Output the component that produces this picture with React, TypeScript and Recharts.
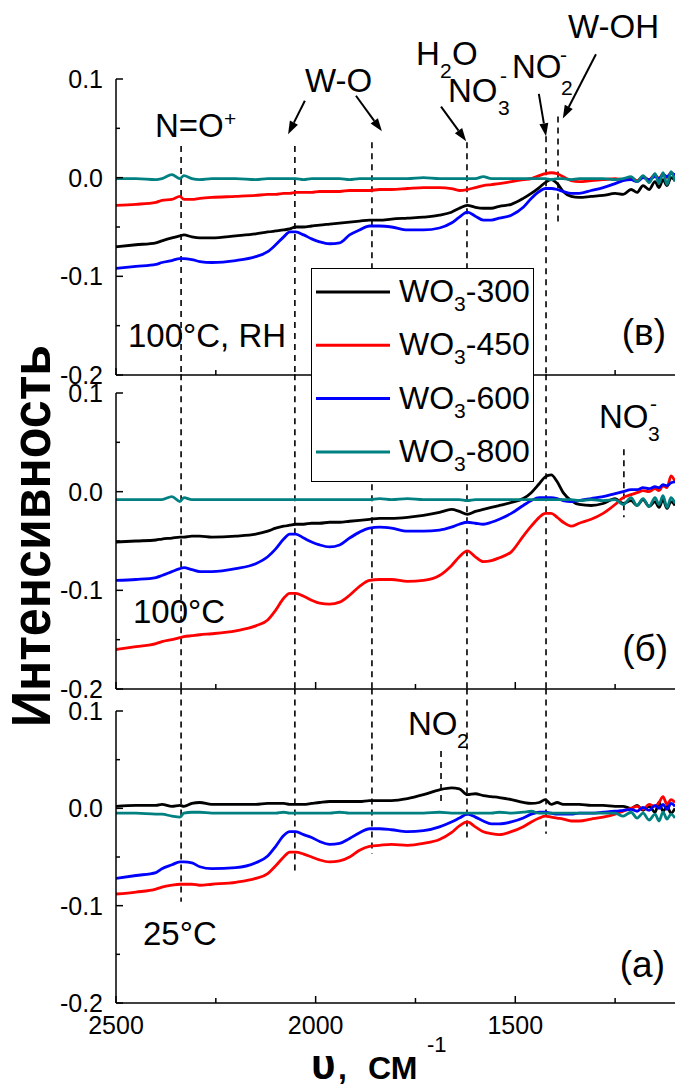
import { Legend, Line, LineChart, ReferenceLine, XAxis, YAxis } from 'recharts'

const FONT = '"Liberation Sans", Arial, sans-serif'
const W = 675
const H = 1090

// wavenumber, cm-1
const wavenumber = [
  2500, 2450, 2400, 2385, 2360, 2340, 2330, 2310, 2290, 2260,
  2200, 2150, 2120, 2100, 2080, 2065, 2050, 2030, 2010, 1990,
  1965, 1940, 1915, 1890, 1865, 1840, 1810, 1770, 1730, 1690,
  1660, 1640, 1620, 1600, 1580, 1560, 1540, 1510, 1480, 1460,
  1440, 1425, 1410, 1395, 1380, 1360, 1340, 1310, 1280, 1250,
  1230, 1210, 1195, 1180, 1165, 1150, 1140, 1130, 1120, 1110,
  1100,
]

// (в) 100°C, RH
const rh300 = [
  -0.070, -0.068, -0.066, -0.064, -0.061, -0.059, -0.058, -0.060, -0.061, -0.061,
  -0.059, -0.057, -0.055, -0.054, -0.053, -0.052, -0.050, -0.050, -0.049, -0.048,
  -0.047, -0.046, -0.045, -0.044, -0.043, -0.043, -0.042, -0.041, -0.040, -0.038,
  -0.035, -0.031, -0.028, -0.030, -0.031, -0.031, -0.029, -0.027, -0.021, -0.016,
  -0.010, -0.005, -0.002, -0.006, -0.014, -0.019, -0.020, -0.019, -0.018, -0.016,
  -0.017, -0.012, -0.015, -0.008, -0.012, -0.004, -0.010, -0.002, -0.008, 0.000,
  -0.003,
]
const rh450 = [
  -0.028, -0.027, -0.025, -0.023, -0.022, -0.019, -0.022, -0.022, -0.021, -0.020,
  -0.019, -0.018, -0.017, -0.017, -0.016, -0.016, -0.015, -0.015, -0.015, -0.014,
  -0.014, -0.014, -0.013, -0.013, -0.013, -0.012, -0.012, -0.011, -0.010, -0.010,
  -0.011, -0.013, -0.012, -0.010, -0.008, -0.007, -0.006, -0.004, -0.002, -0.001,
  0.002, 0.004, 0.005, 0.004, 0.001, -0.003, -0.004, -0.003, -0.002, -0.001,
  -0.002, 0.000, -0.003, 0.001, -0.002, 0.003, -0.001, 0.004, 0.000, 0.005,
  0.002,
]
const rh600 = [
  -0.092, -0.090, -0.088, -0.086, -0.084, -0.082, -0.082, -0.083, -0.085, -0.086,
  -0.084, -0.080, -0.075, -0.068, -0.060, -0.055, -0.055, -0.058, -0.062, -0.065,
  -0.067, -0.066, -0.058, -0.053, -0.049, -0.049, -0.050, -0.053, -0.053, -0.051,
  -0.046, -0.040, -0.035, -0.039, -0.043, -0.043, -0.041, -0.038, -0.030, -0.021,
  -0.014, -0.011, -0.011, -0.012, -0.014, -0.016, -0.016, -0.013, -0.010, -0.006,
  -0.003, -0.002, -0.004, 0.000, -0.002, 0.001, -0.001, 0.003, 0.001, 0.004,
  0.003,
]
const rh800 = [
  -0.001, -0.001, -0.002, -0.001, 0.003, -0.001, 0.002, -0.001, -0.002, -0.001,
  -0.001, -0.002, -0.001, -0.001, -0.001, -0.001, -0.001, -0.002, -0.001, -0.001,
  -0.001, -0.001, -0.002, -0.001, -0.001, -0.001, -0.001, -0.001, 0.000, -0.001,
  -0.001, -0.001, -0.001, -0.001, 0.001, -0.001, -0.001, -0.001, -0.001, -0.001,
  -0.001, -0.001, -0.002, -0.001, -0.001, -0.002, -0.001, -0.001, -0.001, -0.002,
  -0.001, 0.001, -0.004, 0.002, -0.005, 0.004, -0.006, 0.005, -0.007, 0.006,
  -0.004,
]

// (б) 100°C
const t100_300 = [
  -0.051, -0.050, -0.049, -0.048, -0.047, -0.046, -0.046, -0.045, -0.045, -0.046,
  -0.045, -0.043, -0.040, -0.037, -0.035, -0.034, -0.033, -0.033, -0.032, -0.032,
  -0.031, -0.031, -0.030, -0.029, -0.028, -0.027, -0.027, -0.026, -0.024, -0.021,
  -0.018, -0.020, -0.023, -0.020, -0.018, -0.016, -0.014, -0.011, -0.007, -0.001,
  0.008, 0.015, 0.017, 0.010, -0.001, -0.009, -0.013, -0.014, -0.012, -0.007,
  -0.012, -0.009, -0.014, -0.008, -0.015, -0.010, -0.016, -0.008, -0.017, -0.010,
  -0.014,
]
const t100_450 = [
  -0.160, -0.157, -0.154, -0.152, -0.150, -0.148, -0.147, -0.146, -0.145, -0.144,
  -0.141, -0.136, -0.130, -0.120, -0.108, -0.103, -0.103, -0.106, -0.110, -0.113,
  -0.114, -0.112, -0.105, -0.096, -0.090, -0.089, -0.089, -0.091, -0.090, -0.085,
  -0.075, -0.066, -0.060, -0.066, -0.071, -0.070, -0.067, -0.061, -0.045, -0.035,
  -0.026, -0.022, -0.022, -0.026, -0.031, -0.035, -0.032, -0.028, -0.022, -0.013,
  -0.006, -0.003, -0.001, 0.001, 0.000, 0.003, 0.001, 0.006, 0.004, 0.016,
  0.010,
]
const t100_600 = [
  -0.090, -0.089, -0.087, -0.085, -0.081, -0.078, -0.077, -0.079, -0.081, -0.081,
  -0.078, -0.073, -0.066, -0.058, -0.048, -0.043, -0.043, -0.047, -0.051, -0.054,
  -0.056, -0.054, -0.047, -0.041, -0.037, -0.036, -0.037, -0.040, -0.040, -0.039,
  -0.036, -0.033, -0.031, -0.032, -0.033, -0.031, -0.028, -0.022, -0.014, -0.009,
  -0.006, -0.006, -0.006, -0.007, -0.009, -0.010, -0.009, -0.007, -0.005, -0.002,
  0.000, 0.002, 0.002, 0.004, 0.003, 0.005, 0.004, 0.007, 0.006, 0.009,
  0.010,
]
const t100_800 = [
  -0.008, -0.008, -0.008, -0.008, -0.005, -0.010, -0.006, -0.008, -0.008, -0.008,
  -0.008, -0.008, -0.008, -0.008, -0.008, -0.008, -0.008, -0.008, -0.008, -0.008,
  -0.008, -0.008, -0.008, -0.008, -0.008, -0.007, -0.008, -0.007, -0.008, -0.008,
  -0.008, -0.008, -0.009, -0.008, -0.008, -0.008, -0.008, -0.008, -0.008, -0.008,
  -0.008, -0.008, -0.008, -0.008, -0.008, -0.008, -0.009, -0.008, -0.009, -0.008,
  -0.013, -0.006, -0.014, -0.007, -0.015, -0.006, -0.013, -0.004, -0.016, -0.006,
  -0.012,
]

// (а) 25°C
const t25_300 = [
  0.002, 0.003, 0.003, 0.004, 0.002, 0.003, 0.002, 0.005, 0.006, 0.004,
  0.004, 0.004, 0.005, 0.005, 0.005, 0.004, 0.004, 0.004, 0.005, 0.006,
  0.007, 0.007, 0.007, 0.007, 0.008, 0.008, 0.008, 0.010, 0.014, 0.019,
  0.021, 0.020, 0.014, 0.015, 0.013, 0.012, 0.011, 0.009, 0.006, 0.005,
  0.006, 0.009, 0.004, 0.006, 0.004, 0.004, 0.004, 0.003, 0.003, 0.002,
  0.002, 0.000, 0.003, -0.002, 0.002, -0.004, 0.006, -0.003, 0.002, -0.005,
  0.000,
]
const t25_450 = [
  -0.088, -0.086, -0.083, -0.081, -0.079, -0.078, -0.078, -0.078, -0.079, -0.078,
  -0.076, -0.072, -0.067, -0.059, -0.050, -0.045, -0.045, -0.047, -0.050, -0.053,
  -0.055, -0.054, -0.050, -0.043, -0.039, -0.038, -0.037, -0.038, -0.036, -0.032,
  -0.025, -0.018, -0.014, -0.019, -0.024, -0.026, -0.027, -0.024, -0.019, -0.014,
  -0.010, -0.008, -0.009, -0.010, -0.011, -0.013, -0.013, -0.011, -0.009, -0.006,
  -0.003, 0.000, 0.002, -0.001, 0.004, 0.002, 0.006, 0.012, 0.004, 0.009,
  0.006,
]
const t25_600 = [
  -0.072, -0.069, -0.066, -0.062, -0.058, -0.055, -0.055, -0.056, -0.060, -0.062,
  -0.061, -0.056, -0.049, -0.039, -0.028, -0.024, -0.024, -0.027, -0.030, -0.034,
  -0.037, -0.036, -0.031, -0.025, -0.021, -0.021, -0.022, -0.024, -0.023, -0.019,
  -0.014, -0.010, -0.006, -0.009, -0.013, -0.016, -0.016, -0.014, -0.010, -0.006,
  -0.004, -0.004, -0.005, -0.006, -0.006, -0.006, -0.005, -0.005, -0.004, -0.003,
  -0.002, -0.001, -0.003, 0.001, -0.002, 0.003, 0.000, 0.004, -0.001, 0.005,
  0.002,
]
const t25_800 = [
  -0.005, -0.005, -0.006, -0.006, -0.008, -0.009, -0.005, -0.004, -0.004, -0.005,
  -0.005, -0.005, -0.005, -0.005, -0.004, -0.005, -0.005, -0.005, -0.005, -0.005,
  -0.005, -0.004, -0.005, -0.005, -0.005, -0.005, -0.005, -0.005, -0.005, -0.004,
  -0.005, -0.005, -0.005, -0.005, -0.005, -0.005, -0.004, -0.005, -0.004, -0.003,
  -0.005, -0.005, -0.005, -0.005, -0.005, -0.005, -0.005, -0.005, -0.005, -0.005,
  -0.008, -0.004, -0.010, -0.005, -0.012, -0.006, -0.013, -0.004, -0.011, -0.006,
  -0.010,
]

const seriesKeys = ['s300', 's450', 's600', 's800']
const seriesNames = ['300', '450', '600', '800']
const seriesColors = ['#000000', '#ff0000', '#0000ff', '#008080']

const yTicks = [-0.2, -0.15, -0.1, -0.05, 0, 0.05, 0.1]
const xTicks = [2500, 2250, 2000, 1750, 1500, 1250]

// dashed guides: [wavenumber, from, to]
const guidesRH = [[2337, 0.032, -0.2], [2052, 0.032, -0.2], [1859, 0.036, -0.2], [1621, 0.036, -0.2], [1423, 0.042, -0.2], [1393, 0.062, -0.049]]
const guides100 = [[2337, 0.119, -0.2], [2052, 0.119, -0.2], [1859, 0.119, -0.2], [1621, 0.119, -0.2], [1423, 0.119, -0.2], [1228, 0.043, -0.026]]
const guides25 = [[2337, 0.123, -0.096], [2052, 0.123, -0.068], [1859, 0.123, -0.047], [1621, 0.123, -0.03], [1423, 0.123, -0.026], [1686, 0.059, 0.005]]
// arrows: [x1, y1, x2, y2]
const arrowsRH = [[2027, 0.078, 2069, 0.044], [1899, 0.083, 1834, 0.047], [1686, 0.072, 1623, 0.037], [1441, 0.085, 1423, 0.042], [1298, 0.125, 1381, 0.06]]

const makeRows = (a, b, c, d) =>
  wavenumber.map((w, i) => ({ w, s300: a[i], s450: b[i], s600: c[i], s800: d[i] }))

const rowsRH = makeRows(rh300, rh450, rh600, rh800)
const rows100 = makeRows(t100_300, t100_450, t100_600, t100_800)
const rows25 = makeRows(t25_300, t25_450, t25_600, t25_800)

const YTick = ({ x, y, payload }) => {
  const v = payload.value
  const major = Math.abs(v * 10 - Math.round(v * 10)) < 1e-6
  return (
    <g>
      <line x1={x} x2={x + (major ? 7 : 4)} y1={y} y2={y} stroke="#000" strokeWidth={1.5} />
      {major && (
        <text x={x - 13} y={y + 9} textAnchor="end" fontSize={25} fill="#000" fontFamily={FONT}>
          {v.toFixed(1)}
        </text>
      )}
    </g>
  )
}

const XTick = ({ x, y, payload, showLabel }) => {
  const major = payload.value % 500 === 0
  return (
    <g>
      <line x1={x} x2={x} y1={y} y2={y - (major ? 7 : 5)} stroke="#000" strokeWidth={1.5} />
      {major && showLabel && (
        <text x={x} y={y + 31} textAnchor="middle" fontSize={25} fill="#000" fontFamily={FONT}>
          {payload.value}
        </text>
      )}
    </g>
  )
}

const Arrow = ({ x1, y1, x2, y2 }) => {
  const a = Math.atan2(y2 - y1, x2 - x1)
  const L = 13
  const hw = 4.5
  const bx = x2 - L * Math.cos(a)
  const by = y2 - L * Math.sin(a)
  const px = -Math.sin(a) * hw
  const py = Math.cos(a) * hw
  return (
    <g>
      <line x1={x1} y1={y1} x2={bx} y2={by} stroke="#000" strokeWidth={2} />
      <polygon points={`${x2},${y2} ${bx + px},${by + py} ${bx - px},${by - py}`} fill="#000" />
    </g>
  )
}

const LegendBox = () => (
  <svg width={223} height={214} style={{ display: 'block' }}>
    <rect x={0.5} y={0.5} width={222} height={213} fill="#fff" stroke="#000" strokeWidth={1} />
    {seriesNames.map((name, i) => {
      const cy = 24 + i * 53.3
      return (
        <g key={name}>
          <line x1={5} x2={79} y1={cy} y2={cy} stroke={seriesColors[i]} strokeWidth={3} />
          <text x={88} y={cy + 10} fontSize={32} fill="#000" fontFamily={FONT}>
            WO<tspan fontSize={21} dy={9}>3</tspan>
            <tspan dy={-9}>-{name}</tspan>
          </text>
        </g>
      )
    })}
  </svg>
)

const T = ({ x, y, size = 33, anchor = 'start', children }) => (
  <text x={x} y={y} fontSize={size} textAnchor={anchor} fill="#000" fontFamily={FONT}>
    {children}
  </text>
)

const Panel = ({ rows, top, bottom, guides, arrows = [], showXLabels = false, children = null, legend = false }) => (
  <div style={{ position: 'absolute', left: 0, top: 0 }}>
    <LineChart width={W} height={H} data={rows} margin={{ top, right: 0, bottom: H - bottom - 1, left: 0 }}>
      <XAxis
        type="number"
        dataKey="w"
        domain={[1100, 2500]}
        reversed
        allowDataOverflow
        ticks={xTicks}
        interval={0}
        height={1}
        tickSize={0}
        tickMargin={0}
        tickLine={false}
        axisLine={{ stroke: '#000', strokeWidth: 1.5 }}
        tick={(p) => <XTick {...p} showLabel={showXLabels} />}
      />
      <YAxis
        type="number"
        domain={[-0.2, 0.1]}
        allowDataOverflow
        ticks={yTicks}
        interval={0}
        width={116}
        tickSize={0}
        tickMargin={0}
        tickLine={false}
        axisLine={{ stroke: '#000', strokeWidth: 1.5 }}
        tick={YTick}
      />
      {guides.map(([x, a, b], i) => (
        <ReferenceLine
          key={'g' + i}
          segment={[{ x, y: a }, { x, y: b }]}
          stroke="#000"
          strokeWidth={1.6}
          strokeDasharray="6 5"
          ifOverflow="visible"
        />
      ))}
      {arrows.map(([xa, ya, xb, yb], i) => (
        <ReferenceLine
          key={'a' + i}
          segment={[{ x: xa, y: ya }, { x: xb, y: yb }]}
          ifOverflow="visible"
          shape={Arrow}
        />
      ))}
      {seriesKeys.map((k, i) => (
        <Line
          key={k}
          type="monotone"
          dataKey={k}
          stroke={seriesColors[i]}
          strokeWidth={2.8}
          dot={false}
          isAnimationActive={false}
        />
      ))}
      {legend && (
        <Legend
          layout="vertical"
          verticalAlign="middle"
          align="center"
          wrapperStyle={{ left: 311, top: 268, width: 223, height: 214 }}
          content={LegendBox}
        />
      )}
      {children}
    </LineChart>
  </div>
)

export default function App() {
  return (
    <div style={{ position: 'absolute', left: 0, top: 0, width: W, height: H, background: '#fff', fontFamily: FONT }}>
      <Panel rows={rowsRH} top={79} bottom={375} guides={guidesRH} arrows={arrowsRH}>
        <T x={155} y={137}>N=O</T>
        <T x={224} y={126} size={21}>+</T>
        <T x={305} y={92}>W-O</T>
        <T x={416} y={65}>H</T>
        <T x={440} y={78} size={21}>2</T>
        <T x={452} y={65}>O</T>
        <T x={448} y={102}>NO</T>
        <T x={498} y={115} size={21}>3</T>
        <T x={500} y={83} size={21}>-</T>
        <T x={512} y={78}>NO</T>
        <T x={560} y={62} size={21}>-</T>
        <T x={561} y={95} size={21}>2</T>
        <T x={568} y={38}>W-OH</T>
        <T x={128} y={347}>100°C, RH</T>
        <T x={666} y={345} size={37} anchor="end">(в)</T>
      </Panel>
      <Panel rows={rows100} top={393} bottom={689} guides={guides100}>
        <T x={599} y={428}>NO</T>
        <T x={648} y={441} size={21}>3</T>
        <T x={650} y={411} size={21}>-</T>
        <T x={133} y={623}>100°C</T>
        <T x={668} y={661} size={37} anchor="end">(б)</T>
        <text
          transform="translate(50 536) rotate(-90)"
          textAnchor="middle"
          fontSize={56}
          fontWeight="bold"
          fontFamily={FONT}
          textLength={382}
          lengthAdjust="spacingAndGlyphs"
          fill="#000"
        >
          Интенсивность
        </text>
      </Panel>
      <Panel rows={rows25} top={711} bottom={1003} guides={guides25} showXLabels legend>
        <T x={408} y={735}>NO</T>
        <T x={457} y={748} size={21}>2</T>
        <T x={143} y={945}>25°C</T>
        <T x={665} y={977} size={37} anchor="end">(а)</T>
        <text x={311} y={1079} fontSize={42} fontWeight="bold" fontFamily={FONT} fill="#000">υ</text>
        <text x={338} y={1079} fontSize={32} fontWeight="bold" fontFamily={FONT} fill="#000">,</text>
        <text x={368} y={1079} fontSize={32} fontWeight="bold" fontFamily={FONT} fill="#000">СМ</text>
        <text x={427} y={1052} fontSize={22} fontFamily={FONT} fill="#000">-1</text>
      </Panel>
    </div>
  )
}
